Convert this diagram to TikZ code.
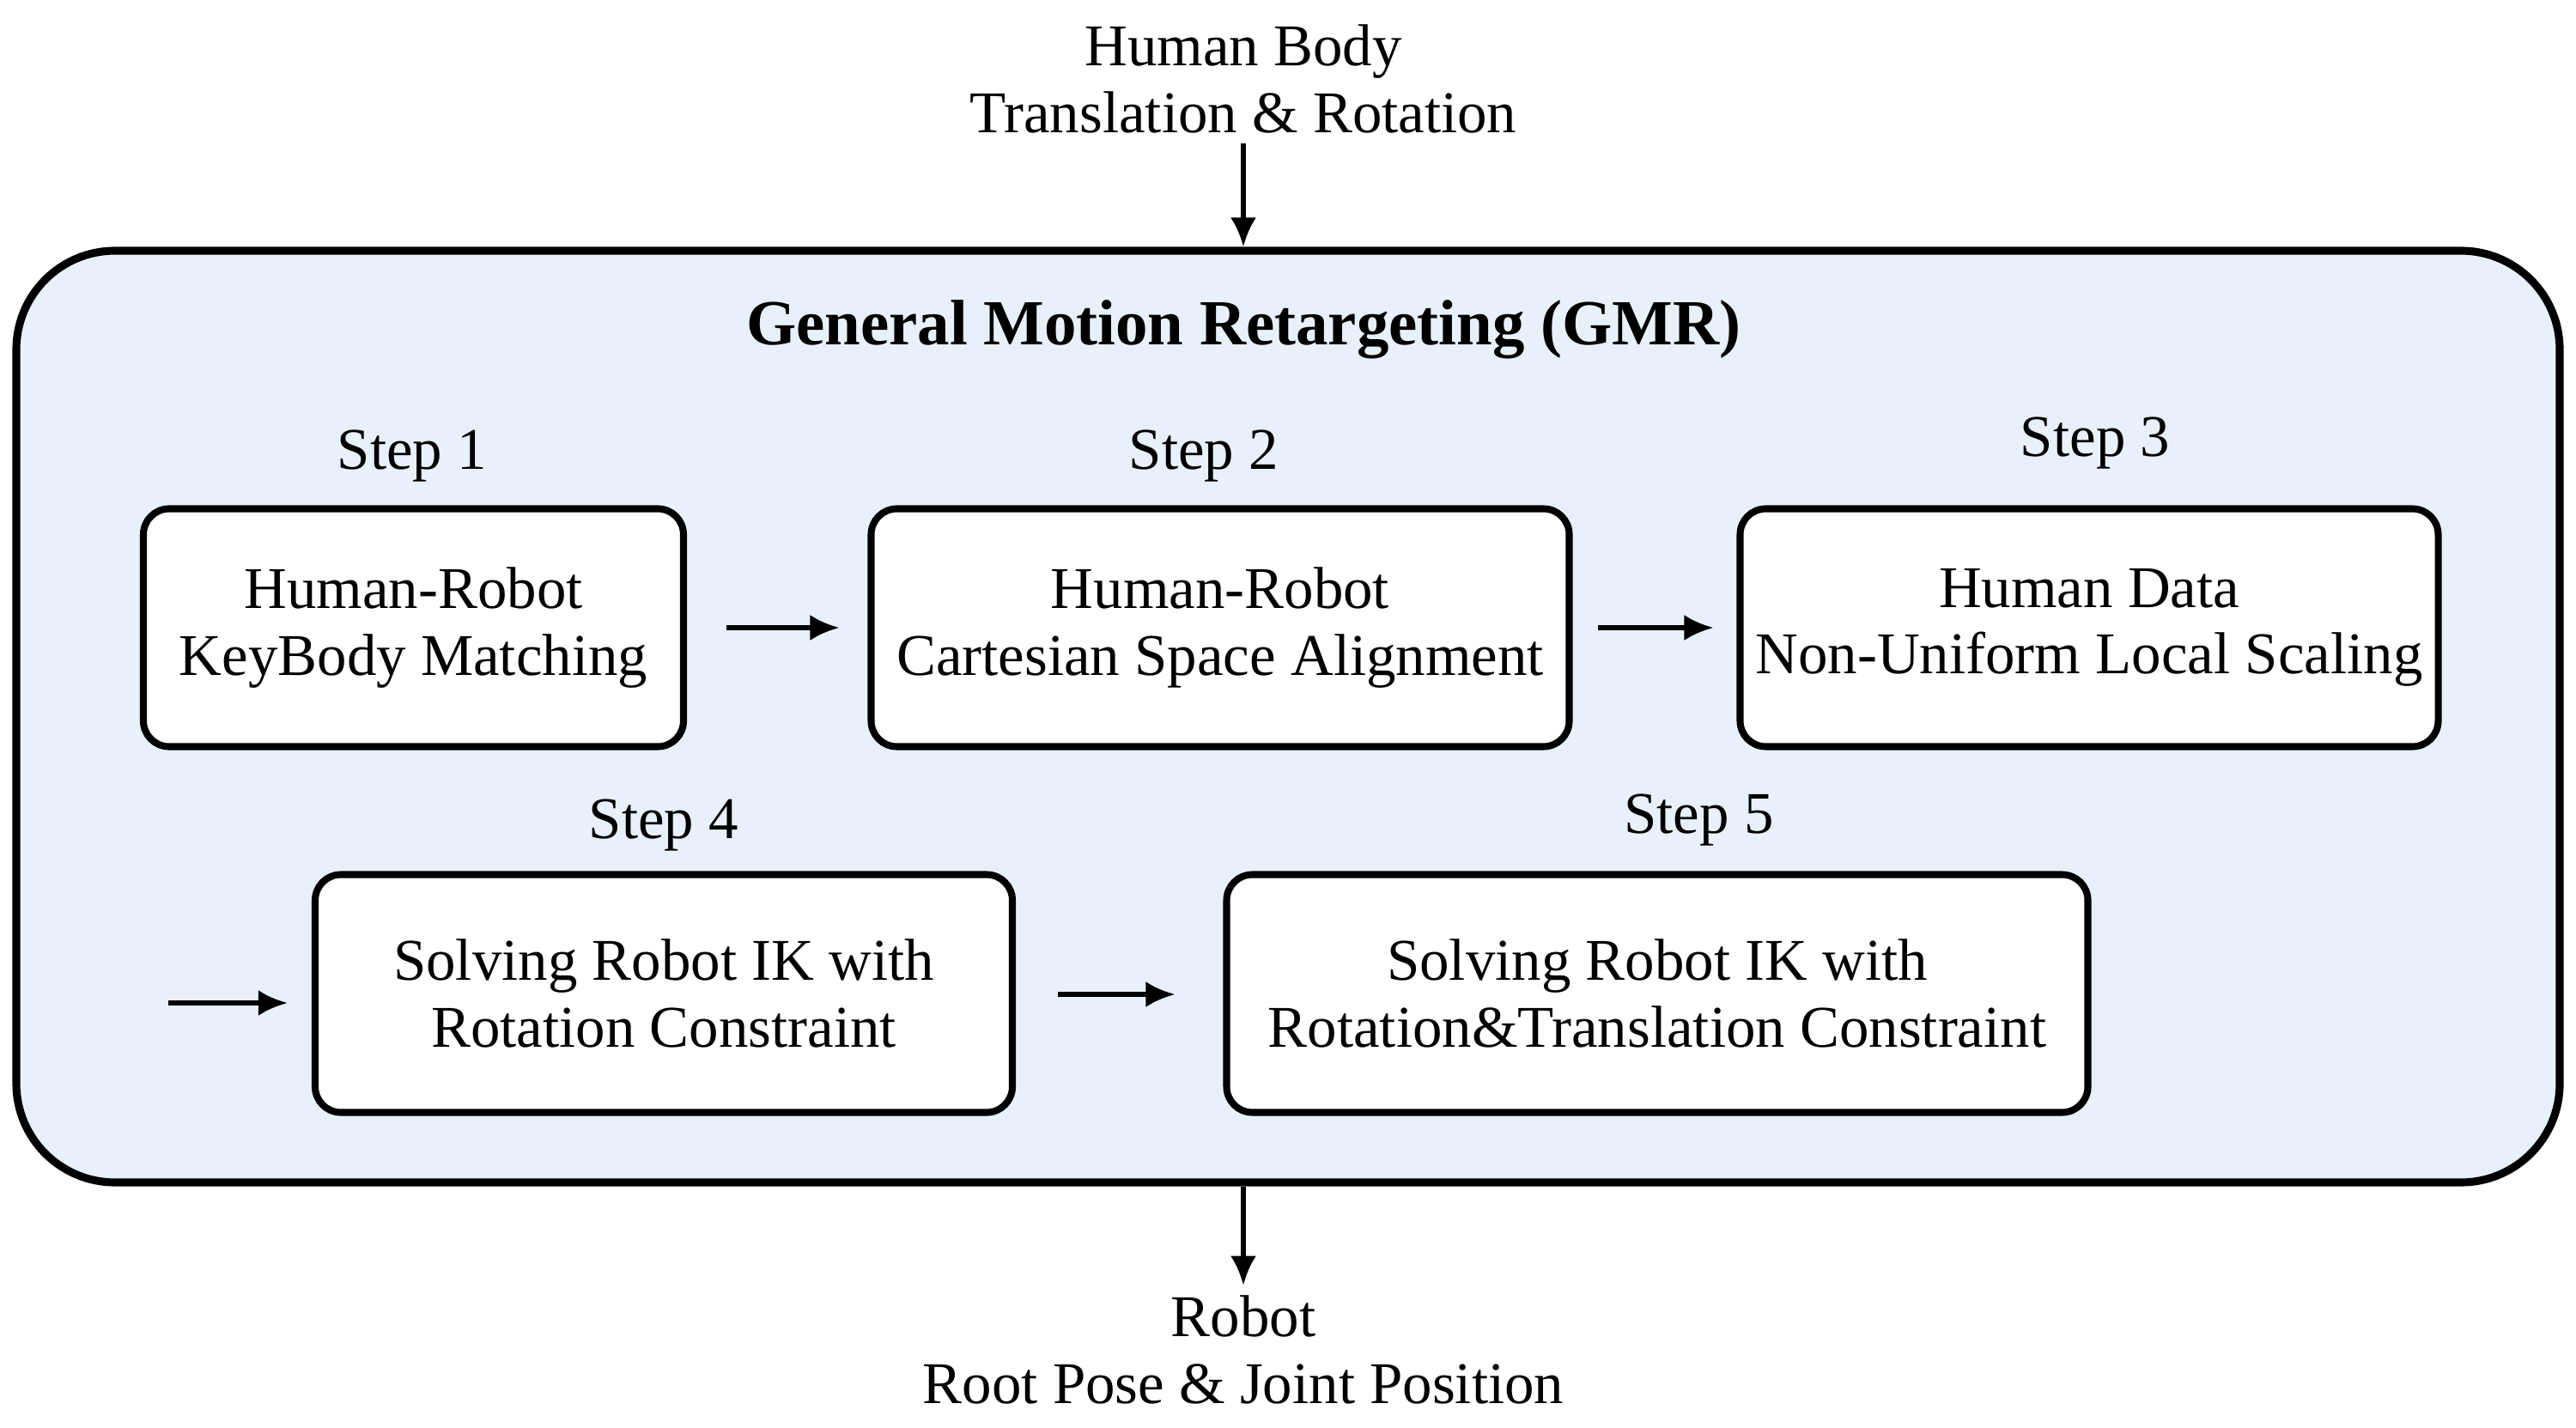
\documentclass[tikz,border=0pt]{standalone}
\usepackage{fontspec}
\setmainfont{Liberation Serif}
\usetikzlibrary{positioning}
\usetikzlibrary{arrows.meta}

\definecolor{gmrblue}{HTML}{E8F1F9}

\tikzset{
  txt/.style={font=\fontsize{19.6}{22}\selectfont, align=center},
  stepbox/.style={txt, draw, line width=2.3pt, rounded corners=0.3cm, fill=white, minimum height=2.77cm},
  flow/.style={line width=1.6pt, -{Latex[length=3.4mm,width=3mm]}},
}

\begin{document}
\begin{tikzpicture}
  \useasboundingbox (0,0) rectangle (30,16.62);

  % outer frame
  \node[draw, line width=2.6pt, fill=gmrblue, rounded corners=1.15cm,
        minimum width=29.62cm, minimum height=10.85cm] (gmr) at (15.0,8.275) {};
  \node[txt, font=\fontsize{21.3}{24}\selectfont\bfseries] (title) at (14.48,12.78)
    {General Motion Retargeting (GMR)};

  % input and output
  \node[txt] (human) at (14.48,15.70) {Human Body\\Translation \& Rotation};
  \node[txt] (robot) at (14.48,0.90) {Robot\\Root Pose \& Joint Position};
  \draw[flow] (human.south) -- (human.south |- gmr.north);
  \draw[flow] (robot.north |- gmr.south) -- (robot.north);

  % step boxes
  \foreach \name/\x/\y/\w/\la/\lb in {
    s1/4.815/9.31/6.29/Human-Robot/KeyBody Matching,
    s2/14.21/9.31/8.13/Human-Robot/Cartesian Space Alignment,
    s3/24.33/9.31/8.13/Human Data/Non-Uniform Local Scaling,
    s4/7.73/5.05/8.12/Solving Robot IK with/Rotation Constraint,
    s5/19.30/5.05/10.03/Solving Robot IK with/Rotation{\&}Translation Constraint
  }{
    \node[stepbox, minimum width=\w cm] (\name) at (\x,\y) {\la\\\lb};
  }

  % step labels
  \foreach \name/\x/\y/\n in {
    l1/4.80/11.31/1,
    l2/14.02/11.31/2,
    l3/24.40/11.46/3,
    l4/7.73/7.01/4,
    l5/19.87/7.07/5
  }{
    \node[txt] (\name) at (\x,\y) {Step \n};
  }

  % arrows between steps
  \coordinate (in4) at (1.96,4.94);
  \draw[flow] ([xshift=4.6mm]s1.east) -- ([xshift=-3.3mm]s2.west);
  \draw[flow] ([xshift=2.9mm]s2.east) -- ([xshift=-2.7mm]s3.west);
  \draw[flow] (in4) -- ([xshift=-2.8mm]s4.west |- in4);
  \draw[flow] ([xshift=4.9mm,yshift=-0.1mm]s4.east) -- ([xshift=-5.6mm,yshift=-0.1mm]s5.west);
\end{tikzpicture}
\end{document}
